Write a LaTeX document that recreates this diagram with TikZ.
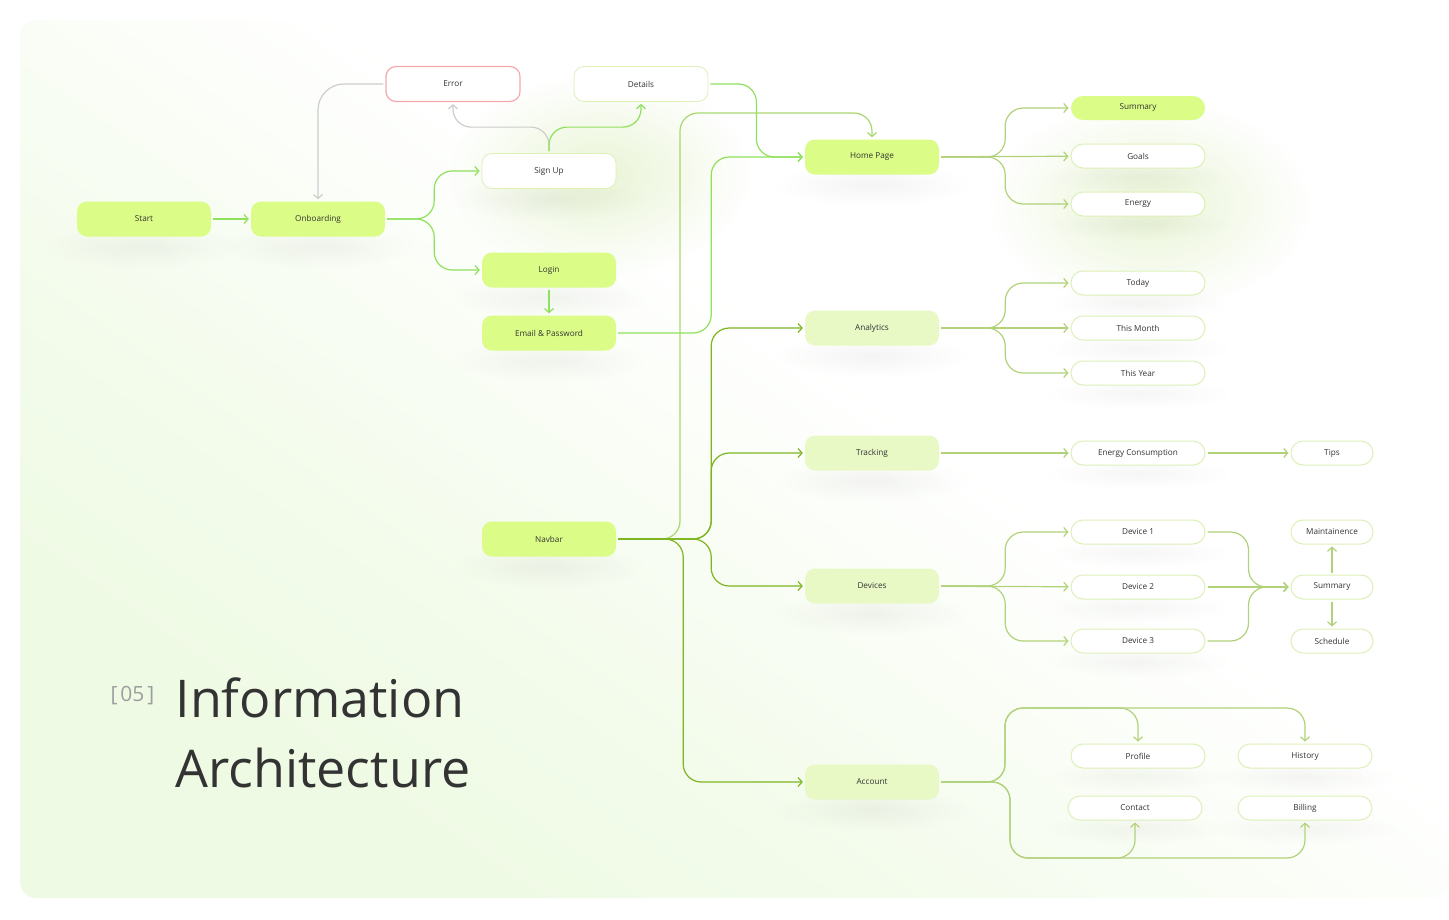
\documentclass[tikz,border=0pt]{standalone}
\usepackage{fontspec}
\setmainfont{Open Sans}
\usetikzlibrary{arrows.meta,positioning,fadings,backgrounds}

\definecolor{limefill}{HTML}{DBFC86}
\definecolor{palefill}{HTML}{E8F9C6}
\definecolor{boxline}{HTML}{DCF0B8}
\definecolor{errline}{HTML}{F2A9AF}
\definecolor{brightgreen}{HTML}{8EE15B}
\definecolor{olivegreen}{HTML}{B2D27A}
\definecolor{navgreen}{HTML}{7DB520}
\definecolor{navlight}{HTML}{A9D86E}
\definecolor{greyline}{HTML}{CDCDCD}
\definecolor{labeltext}{HTML}{333333}
\definecolor{panelgreen}{HTML}{EEFAE3}
\definecolor{glowgreen}{HTML}{E4F2CB}

\pgfdeclarehorizontalshading{panelshade}{100bp}{color(0bp)=(panelgreen); color(25bp)=(panelgreen);
  color(38bp)=(panelgreen!70!white); color(56bp)=(white); color(100bp)=(white)}
\tikzfading[name=softglow, inner color=transparent!0, outer color=transparent!100]

\tikzset{
  bigbox/.style={rounded corners=10pt, minimum width=134pt, minimum height=35pt, inner sep=0pt,
    fill=limefill, text=labeltext, font=\fontsize{8.2}{9}\selectfont},
  palebox/.style={bigbox, fill=palefill},
  whitebox/.style={bigbox, fill=white, draw=boxline, line width=0.8pt},
  errbox/.style={whitebox, draw=errline, line width=1.2pt},
  smallbox/.style={rounded corners=12pt, minimum width=134pt, minimum height=24pt, inner sep=0pt,
    fill=white, draw=boxline, line width=1pt, text=labeltext, font=\fontsize{8.2}{9}\selectfont},
  tinybox/.style={smallbox, minimum width=82pt},
  flow/.style={line width=1.2pt, rounded corners=18pt, shorten >=2pt, shorten <=2pt,
    -{Straight Barb[length=4pt,width=9pt]}},
  flowbright/.style={flow, brightgreen},
  flowgrey/.style={flow, greyline},
  flowolive/.style={flow, olivegreen},
  flownav/.style={flow, navgreen},
  flownavlight/.style={flow, navlight},
  haze/.style={black, opacity=0.045, path fading=softglow}
}

\begin{document}
\begin{tikzpicture}[x=1pt, y=-1pt]
  \useasboundingbox (0,0) rectangle (1449,919);

  % onboarding part
  \node[bigbox] (start) at (144,219) {Start};
  \node[bigbox] (onb) at (318,219) {Onboarding};
  \node[errbox] (error) at (453,84) {Error};
  \node[whitebox] (details) at (641,84) {Details};
  \node[whitebox] (signup) at (549,171) {Sign Up};
  \node[bigbox] (login) at (549,270) {Login};
  \node[bigbox] (email) at (549,333) {Email \& Password};
  \node[bigbox] (navbar) at (549,539) {Navbar};

  % main pages
  \node[bigbox] (home) at (872,157) {Home Page};
  \node[palebox] (analytics) at (872,328) {Analytics};
  \node[palebox] (tracking) at (872,453) {Tracking};
  \node[palebox] (devices) at (872,586) {Devices};
  \node[palebox] (account) at (872,782) {Account};

  % sub pages
  \node[smallbox, fill=limefill, draw=none] (sumtop) at (1138,108) {Summary};
  \node[smallbox] (goals) at (1138,156) {Goals};
  \node[smallbox] (energy) at (1138,204) {Energy};
  \node[smallbox] (today) at (1138,283) {Today};
  \node[smallbox] (month) at (1138,328) {This Month};
  \node[smallbox] (year) at (1138,373) {This Year};
  \node[smallbox] (cons) at (1138,453) {Energy Consumption};
  \node[tinybox] (tips) at (1332,453) {Tips};
  \node[smallbox] (dev1) at (1138,532) {Device 1};
  \node[smallbox] (dev2) at (1138,587) {Device 2};
  \node[smallbox] (dev3) at (1138,641) {Device 3};
  \node[tinybox] (maint) at (1332,532) {Maintainence};
  \node[tinybox] (sumdev) at (1332,587) {Summary};
  \node[tinybox] (sched) at (1332,641) {Schedule};
  \node[smallbox] (profile) at (1138,756) {Profile};
  \node[smallbox] (history) at (1305,756) {History};
  \node[smallbox] (contact) at (1135,808) {Contact};
  \node[smallbox] (billing) at (1305,808) {Billing};

  % title
  \node[anchor=base west, text=gray!75, font=\fontsize{21}{22}\selectfont] (secno) at (107,701) {[\kern3pt05\kern3pt]};
  \node[anchor=base west, text=labeltext, font=\fontsize{52}{53}\selectfont] (title1) at (172,717) {Information};
  \node[anchor=base west, text=labeltext, font=\fontsize{52}{53}\selectfont] (title2) at (172,787) {Architecture};

  % panel, glows and soft shadows
  \begin{scope}[on background layer]
    \shade[rounded corners=16pt, shading=panelshade, shading angle=55] (20,20) rectangle (1449,898);
    \fill[glowgreen, opacity=0.8, path fading=softglow] (600,175) ellipse (150 and 100);
    \fill[glowgreen, opacity=0.8, path fading=softglow] (1150,205) ellipse (160 and 105);
    \foreach \n in {start,onb,signup,login,email,navbar,home,analytics,tracking,devices,account}
      \fill[haze] ([yshift=-10pt]\n.south) ellipse (100 and 22);
    \foreach \n in {goals,energy,today,month,year,cons,dev1,dev2,dev3,profile,history,contact,billing}
      \fill[haze, opacity=0.035] ([yshift=-8pt]\n.south) ellipse (95 and 16);
  \end{scope}

  % connectors, left
  \draw[flowbright] (start) -- (onb);
  \draw[flowbright] (onb.east) -- ++(49,0) |- (signup.west);
  \draw[flowbright] (onb.east) -- ++(49,0) |- (login.west);
  \draw[flowbright] (login) -- (email);
  \draw[flowgrey, rounded corners=26pt] (error.west) -| (onb.north);
  \draw[flowgrey] (signup.north) -- ++(0,-26) -| (error.south);
  \draw[flowbright] (signup.north) -- ++(0,-26) -| (details.south);
  \draw[flowbright] (details.east) -- ++(48,0) |- (home.west);
  \draw[flowbright] (email.east) -- ++(95,0) |- (home.west);

  % navbar
  \draw[flownavlight] (navbar.east) -| (680,113) -| (home.north);
  \foreach \t in {analytics,tracking,devices}
    \draw[flownav] (navbar.east) -- ++(95,0) |- (\t.west);
  \draw[flownav] (navbar.east) -- ++(67,0) |- (account.west);

  % connectors, right
  \foreach \t in {sumtop,energy}
    \draw[flowolive] (home.east) -- ++(66,0) |- (\t.west);
  \draw[flowolive] (home) -- (goals);
  \foreach \t in {today,year}
    \draw[flowolive] (analytics.east) -- ++(66,0) |- (\t.west);
  \draw[flowolive] (analytics) -- (month);
  \draw[flowolive] (tracking) -- (cons);
  \draw[flowolive] (cons) -- (tips);
  \foreach \t in {dev1,dev3}
    \draw[flowolive] (devices.east) -- ++(66,0) |- (\t.west);
  \draw[flowolive] (devices) -- (dev2);
  \foreach \s in {dev1,dev3}
    \draw[flowolive] (\s.east) -- ++(43,0) |- (sumdev.west);
  \draw[flowolive] (dev2) -- (sumdev);
  \draw[flowolive] (sumdev) -- (maint);
  \draw[flowolive] (sumdev) -- (sched);
  \foreach \t in {profile,history}
    \draw[flowolive] (account.east) -| (1005,708) -| (\t.north);
  \foreach \t in {contact,billing}
    \draw[flowolive] (account.east) -| (1010,858) -| (\t.south);
\end{tikzpicture}
\end{document}
